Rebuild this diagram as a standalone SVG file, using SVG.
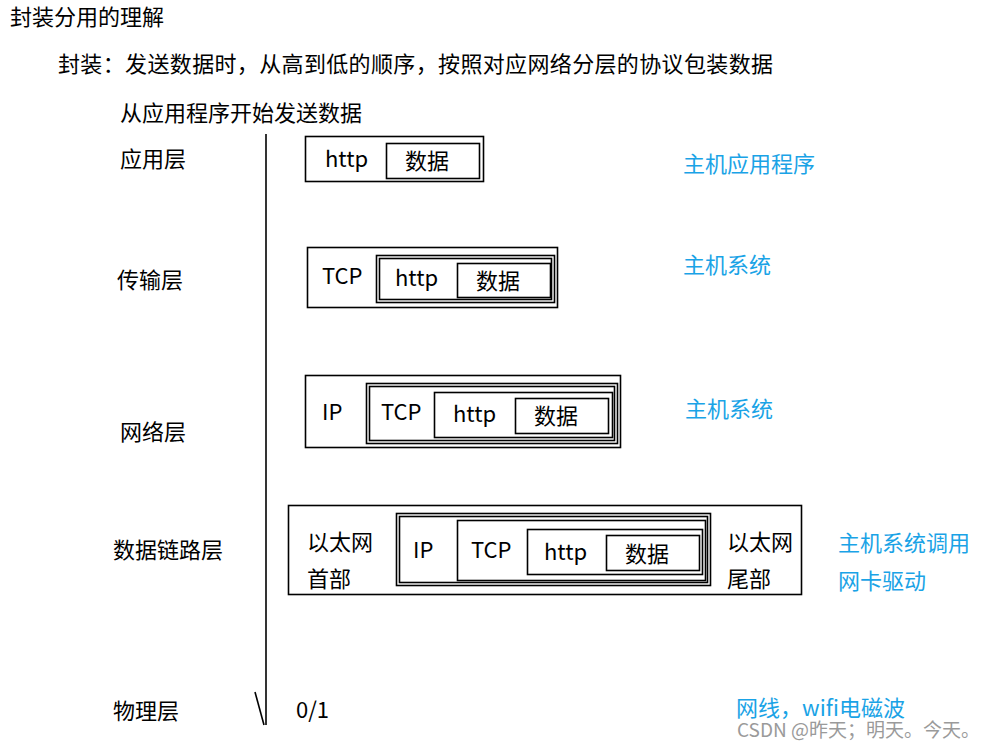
<svg xmlns="http://www.w3.org/2000/svg" width="991" height="746" viewBox="0 0 991 746">
<style>
text{font-family:"Microsoft YaHei","Noto Sans CJK SC","Noto Sans",sans-serif;font-size:22px;fill:#000}
.b{fill:#1aa3e6}
.w{fill:#9a9a9a;font-size:19px}
rect{fill:none;stroke:#000;stroke-width:1.6}
line{stroke:#000;stroke-width:1.6}
</style>
<rect x="0" y="0" width="991" height="746" style="fill:#fff;stroke:none"/>
<g id="titles">
<text x="10" y="25">封装分用的理解</text>
<text x="58" y="72" textLength="715" lengthAdjust="spacing">封装：发送数据时，从高到低的顺序，按照对应网络分层的协议包装数据</text>
<text x="120" y="121">从应用程序开始发送数据</text>
</g>
<g id="layers">
<text x="120" y="167">应用层</text>
<text x="117" y="288">传输层</text>
<text x="120" y="440">网络层</text>
<text x="113" y="558">数据链路层</text>
<text x="113" y="719">物理层</text>
</g>
<g id="connectors">
<line x1="266" y1="134" x2="266" y2="725"/>
<line x1="255" y1="692" x2="264" y2="725"/>
</g>
<g id="app-packet">
<rect x="305.5" y="136.5" width="178" height="45"/>
<rect x="386.5" y="143.5" width="93" height="35"/>
<text x="325" y="167">http</text>
<text x="405" y="169">数据</text>
</g>
<g id="tcp-packet">
<rect x="307.5" y="247.5" width="250" height="60"/>
<rect x="376.5" y="255.5" width="178" height="47"/>
<rect x="379.5" y="258.5" width="172" height="41"/>
<rect x="457.5" y="263.5" width="93" height="34"/>
<text x="322" y="284">TCP</text>
<text x="395" y="286">http</text>
<text x="476" y="289">数据</text>
</g>
<g id="ip-packet">
<rect x="305.5" y="375.5" width="315" height="72"/>
<rect x="366.5" y="383.5" width="251" height="60"/>
<rect x="369.5" y="386.5" width="245" height="54"/>
<rect x="434.5" y="392.5" width="178" height="45"/>
<rect x="515.5" y="398.5" width="93" height="35"/>
<text x="322" y="420">IP</text>
<text x="381" y="420">TCP</text>
<text x="453" y="422">http</text>
<text x="534" y="424">数据</text>
</g>
<g id="frame-packet">
<rect x="288.5" y="505.5" width="513" height="89"/>
<rect x="396.5" y="513.5" width="314" height="72"/>
<rect x="399.5" y="516.5" width="308" height="66"/>
<rect x="457.5" y="520.5" width="248" height="60"/>
<rect x="527.5" y="529.5" width="175" height="45"/>
<rect x="606.5" y="535.5" width="93" height="35"/>
<text x="307" y="550">以太网</text>
<text x="307" y="587">首部</text>
<text x="413" y="558">IP</text>
<text x="471" y="558">TCP</text>
<text x="544" y="560">http</text>
<text x="625" y="562">数据</text>
<text x="727" y="550">以太网</text>
<text x="727" y="587">尾部</text>
</g>
<g id="physical">
<text x="296" y="718">0/1</text>
</g>
<g id="notes">
<text class="b" x="683" y="172">主机应用程序</text>
<text class="b" x="683" y="273">主机系统</text>
<text class="b" x="685" y="417">主机系统</text>
<text class="b" x="838" y="551">主机系统调用</text>
<text class="b" x="838" y="589">网卡驱动</text>
<text class="b" x="736" y="716">网线，wifi电磁波</text>
<text class="w" x="737" y="737">CSDN @昨天；明天。今天。</text>
</g>
</svg>
